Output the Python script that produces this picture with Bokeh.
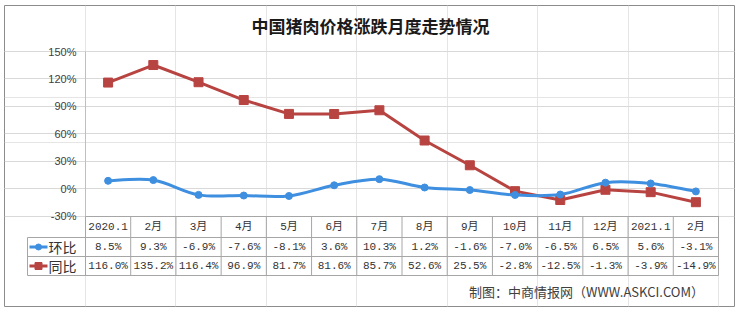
import numpy as np
from bokeh.plotting import figure
from bokeh.models import Range1d, LinearAxis, FixedTicker, Grid
from bokeh.core.properties import value
from bokeh.embed import file_html
from bokeh.resources import INLINE

# ---------------- data ----------------
title = "中国猪肉价格涨跌月度走势情况"
categories = ["2020.1", "2月", "3月", "4月", "5月", "6月", "7月", "8月",
              "9月", "10月", "11月", "12月", "2021.1", "2月"]
mom = [8.5, 9.3, -6.9, -7.6, -8.1, 3.6, 10.3, 1.2, -1.6, -7.0, -6.5, 6.5, 5.6, -3.1]
yoy = [116.0, 135.2, 116.4, 96.9, 81.7, 81.6, 85.7, 52.6, 25.5, -2.8, -12.5, -1.3, -3.9, -14.9]
series_names = ["环比", "同比"]
y_ticks = [-30, 0, 30, 60, 90, 120, 150]
y_tick_labels = ["-30%", "0%", "30%", "60%", "90%", "120%", "150%"]
source_note = "制图：中商情报网（WWW.ASKCI.COM）"

# ---------------- layout geometry (pixels) ----------------
W, H = 738, 312
FL, FR, FT, FB = 4, 734, 5, 306          # outer box (frame)
PX0, PX1 = 85, 718                        # plot area x
PY150, PYM30 = 51, 215.5                  # plot area y for 150 / -30
N = len(categories)
SX = (PX1 - PX0) / N
SY = (PYM30 - PY150) / 180.0

def xd(px):
    return (px - PX0) / SX

def yd(py):
    return 150 - (py - PY150) / SY

BLUE = "#3F8FE0"
RED = "#B84442"
TABLE = "#A6A6A6"
GRID = "#D9D9D9"
TXT = "#333333"
MONO = "Liberation Mono, Noto Sans CJK SC"
CJK = "Noto Sans CJK SC"

p = figure(width=W, height=H, output_backend="svg", toolbar_location=None,
           x_range=Range1d(xd(FL), xd(FR)), y_range=Range1d(yd(FB), yd(FT)),
           x_axis_location=None, y_axis_location=None,
           min_border_left=FL, min_border_right=W - FR,
           min_border_top=FT, min_border_bottom=H - FB)
p.outline_line_color = "#8C8C8C"
p.outline_line_width = 1
p.background_fill_color = "white"
p.border_fill_color = "white"

# y axis
yaxis = LinearAxis(fixed_location=0, bounds=(-30, 150),
                   ticker=FixedTicker(ticks=y_ticks),
                   major_label_overrides={t: l for t, l in zip(y_ticks, y_tick_labels)},
                   major_tick_in=0, major_tick_out=0, minor_tick_in=0, minor_tick_out=0,
                   major_tick_line_color=None, minor_tick_line_color=None,
                   axis_line_color="#BFBFBF", major_label_standoff=9,
                   major_label_text_font="Liberation Sans",
                   major_label_text_font_size="11px",
                   major_label_text_color="#404040")
p.add_layout(yaxis, "left")

p.add_layout(Grid(dimension=1, ticker=yaxis.ticker, bounds=(0, N),
                  grid_line_color=GRID, grid_line_width=1))

# x axis = table header row
centers = [i + 0.5 for i in range(N)]
xaxis = LinearAxis(fixed_location=-30, bounds=(0, N),
                   ticker=FixedTicker(ticks=centers),
                   major_label_overrides={c: l for c, l in zip(centers, categories)},
                   major_tick_in=0, major_tick_out=0, minor_tick_in=0, minor_tick_out=0,
                   major_tick_line_color=None, minor_tick_line_color=None,
                   axis_line_color=TABLE, major_label_standoff=5,
                   major_label_text_font=MONO,
                   major_label_text_font_size="11px",
                   major_label_text_color=TXT)
p.add_layout(xaxis, "below")

# table lines
row_tops = [237, 256, 275]
p.segment(x0=[xd(27)] * 3, y0=[yd(r) for r in row_tops],
          x1=[N] * 3, y1=[yd(r) for r in row_tops], line_color=TABLE, line_width=1)
p.segment(x0=[xd(27)], y0=[yd(237)], x1=[xd(27)], y1=[yd(275)], line_color=TABLE, line_width=1)
p.segment(x0=list(range(N + 1)), y0=[-30] * (N + 1), x1=list(range(N + 1)),
          y1=[yd(275)] * (N + 1), line_color=TABLE, line_width=1)

# smooth curve (环比 is drawn smoothed in the reference)
def bezier_parts(xs, ys):
    n = len(xs)
    out = dict(x0=[], y0=[], x1=[], y1=[], cx0=[], cy0=[], cx1=[], cy1=[])
    for i in range(n - 1):
        a = max(i - 1, 0)
        b = min(i + 2, n - 1)
        out["x0"].append(xs[i]); out["y0"].append(ys[i])
        out["x1"].append(xs[i + 1]); out["y1"].append(ys[i + 1])
        out["cx0"].append(xs[i] + (xs[i + 1] - xs[a]) / 6)
        out["cy0"].append(ys[i] + (ys[i + 1] - ys[a]) / 6)
        out["cx1"].append(xs[i + 1] - (xs[b] - xs[i]) / 6)
        out["cy1"].append(ys[i + 1] - (ys[b] - ys[i]) / 6)
    return out

p.line(centers, yoy, line_color=RED, line_width=3, line_join="round")
p.scatter(centers, yoy, marker="square", size=9, fill_color=RED, line_color=RED)
p.bezier(**bezier_parts(centers, mom), line_color=BLUE, line_width=3)
p.scatter(centers, mom, marker="circle", size=7, fill_color=BLUE, line_color=BLUE)

# table rows
row_centers = [246.5, 265.5]
for vals, name, col, mk, rc in [(mom, series_names[0], BLUE, "circle", row_centers[0]),
                                (yoy, series_names[1], RED, "square", row_centers[1])]:
    yy = yd(rc)
    p.text(x=centers, y=[yy] * N, text=[f"{v:.1f}%" for v in vals],
           text_align="center", text_baseline="middle",
           text_font=value(MONO), text_font_size="11px", text_color=TXT)
    p.segment(x0=[xd(29)], y0=[yy], x1=[xd(47)], y1=[yy], line_color=col, line_width=3)
    p.scatter([xd(38)], [yy], marker=mk, size=6 if mk == "circle" else 7,
              fill_color=col, line_color=col)
    p.text(x=[xd(48)], y=[yy], text=[name], text_align="left", text_baseline="middle",
           text_font=value(CJK), text_font_size="14px", text_color=TXT)

# title & note
p.text(x=[xd(370)], y=[yd(25)], text=[title], text_align="center", text_baseline="middle",
       text_font=value(CJK), text_font_style="bold", text_font_size="17px", text_color="#1A1A1A")
p.text(x=[xd(586)], y=[yd(291)], text=[source_note], text_align="center", text_baseline="middle",
       text_font=value(CJK), text_font_size="13px", text_color="#404040")

open("out.html", "w").write(file_html(p, INLINE))
